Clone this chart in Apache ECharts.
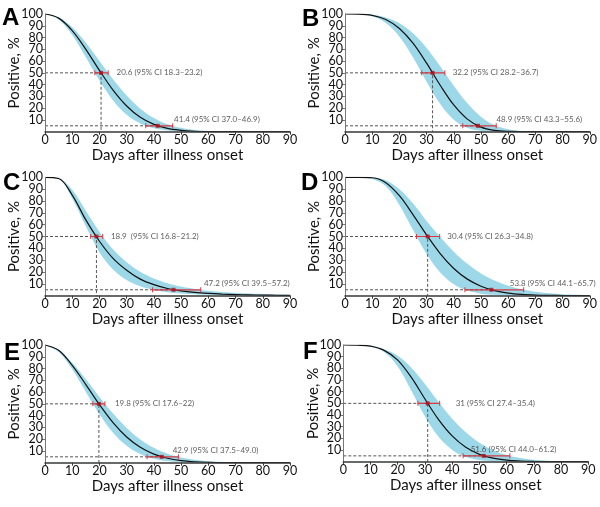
<!DOCTYPE html>
<html><head><meta charset="utf-8">
<script src="https://cdn.jsdelivr.net/npm/echarts@6/dist/echarts.min.js"></script>
<style>html,body{margin:0;padding:0;background:#fff}#c{width:600px;height:507px}</style>
</head><body><div id="c"></div>
<script>
// ---- data ----
const days = [0,5,10,15,20,25,30,35,40,45,50,55,60,65,70,75,80,85,90];

const A_mid = [100,96.5,85.9,70.0,52.1,35.3,21.8,12.2,6.2,2.8,1.2,0.4,0.15,0.05,0,0,0,0,0];
const A_lo  = [100,95.4,82.1,63.2,43.4,26.6,14.4,7.0,3.0,1.1,0.4,0.1,0,0,0,0,0,0,0];
const A_hi  = [100,97.2,88.7,75.6,60.1,44.5,30.7,19.6,11.7,6.4,3.3,1.55,0.7,0.3,0.1,0,0,0,0];

const B_mid = [100,99.9,98.9,95.3,87.7,75.2,58.2,39.5,22.7,10.7,3.9,1.1,0.2,0.03,0,0,0,0,0];
const B_lo  = [100,99.8,98.0,92.3,80.7,63.2,42.5,23.5,10.2,3.3,0.75,0.1,0,0,0,0,0,0,0];
const B_hi  = [100,99.9,99.3,97.1,92.2,83.6,71.1,55.6,39.1,24.2,12.8,5.6,2.0,0.56,0.12,0,0,0,0];

const C_mid = [100,99.0,85.0,64.0,46.0,31.5,21.5,14.0,9.3,6.1,4.1,2.8,1.95,1.35,0.95,0.68,0.5,0.36,0.26];
const C_lo  = [100,99.0,82.0,58.6,36.8,22.2,13.2,7.9,4.8,2.9,1.8,1.15,0.72,0.47,0.3,0.2,0.13,0.09,0.06];
const C_hi  = [100,99.2,89.4,71.7,53.9,39.2,28.3,20.3,14.6,10.6,7.7,5.7,4.2,3.2,2.4,1.8,1.4,1.1,0.8];

const D_mid = [100,100,99.6,95.5,84.5,68.5,51.3,35.6,23.0,14.0,8.0,4.3,2.2,1.1,0.55,0.3,0.15,0.08,0.04];
const D_lo  = [100,99.9,98.5,92.5,76.7,55.6,35.2,19.7,9.7,4.3,1.7,0.7,0.25,0.1,0.04,0,0,0,0];
const D_hi  = [100,100,99.8,97.5,90.0,78.0,63.0,49.5,37.2,26.9,18.8,12.75,8.4,5.35,3.3,2.0,1.2,0.75,0.45];

const E_mid = [100,95.5,82.7,66.4,49.3,34.0,21.8,13.1,7.3,3.8,1.8,0.8,0.35,0.14,0.05,0,0,0,0];
const E_lo  = [100,94.1,79.3,60.1,41.2,25.5,14.3,7.3,3.4,1.4,0.5,0.2,0.06,0,0,0,0,0,0];
const E_hi  = [100,96.2,84.9,70.9,55.9,41.7,29.5,19.8,12.7,7.7,4.5,2.5,1.3,0.66,0.32,0.15,0.07,0,0];

const F_mid = [100,99.8,99.0,95.4,87.1,72.2,53.7,36.1,22.1,12.3,6.3,3.0,1.3,0.6,0.25,0.1,0.05,0,0];
const F_lo  = [100,99.9,98.5,94.0,81.6,60.9,38.8,21.3,10.1,4.1,1.5,0.5,0.15,0.05,0,0,0,0,0];
const F_hi  = [100,100,99.4,96.4,90.8,80.6,66.6,51.2,36.9,25.2,16.2,9.9,5.75,3.2,1.7,0.9,0.45,0.2,0.1];

const medians    = [20.6, 32.2, 18.9, 30.4, 19.8, 31];
const medianLow  = [18.3, 28.2, 16.8, 26.3, 17.6, 27.4];
const medianHigh = [23.2, 36.7, 21.2, 34.8, 22.0, 35.4];
const t5         = [41.4, 48.9, 47.2, 53.8, 42.9, 51.6];
const t5Low      = [37.0, 43.3, 39.5, 44.1, 37.5, 44.0];
const t5High     = [46.9, 55.6, 57.2, 65.7, 49.0, 61.2];
const medianText = ['20.6 (95% CI 18.3–23.2)','32.2 (95% CI 28.2–36.7)','18.9  (95% CI 16.8–21.2)',
                    '30.4 (95% CI 26.3–34.8)','19.8 (95% CI 17.6–22)','31 (95% CI 27.4–35.4)'];
const t5Text     = ['41.4 (95% CI 37.0–46.9)','48.9 (95% CI 43.3–55.6)','47.2 (95% CI 39.5–57.2)',
                    '53.8 (95% CI 44.1–65.7)','42.9 (95% CI 37.5–49.0)','51.6 (95% CI 44.0–61.2)'];
const letters = ['A','B','C','D','E','F'];
const xTitle = 'Days after illness onset';
const yTitle = 'Positive, %';

// ---- layout ----
const mids = [A_mid,B_mid,C_mid,D_mid,E_mid,F_mid];
const los  = [A_lo,B_lo,C_lo,D_lo,E_lo,F_lo];
const his  = [A_hi,B_hi,C_hi,D_hi,E_hi,F_hi];
const gridPos = [
  {left:45, top:14, width:245, height:117.7},
  {left:345, top:14, width:245, height:117.7},
  {left:45, top:177.3, width:245, height:118.4},
  {left:345, top:177.3, width:245, height:118.4},
  {left:45, top:345, width:245, height:117.7},
  {left:343.3, top:345, width:245, height:116.7}
];
const medLabelX = [26.3, 39.6, 24.2, 37.6, 25.7, 41.3];
const t5LabelX  = [47.4, 55.7, 58.4, 60.6, 46.9, 46.8];
const letterPos = [[2,6.5],[302,7.5],[3,171.5],[301,171.5],[4,341.5],[303,340.5]];

const FONT = 'Lato';
const BAND = '#9dd8e8';
const RED = '#d43a42';
const DARKRED = '#a0101e';

const pts = ys => days.map((d,i)=>[d, ys[i]]);

const grids=[], xAxes=[], yAxes=[], series=[], graphics=[];
for (let i=0;i<6;i++){
  grids.push(Object.assign({containLabel:false}, gridPos[i]));
  xAxes.push({
    type:'value', gridIndex:i, min:0, max:90, interval:10, z:10,
    axisLine:{show:true, onZero:false, lineStyle:{color:'#3a3a3a', width:1.5}},
    axisTick:{show:true, length:3, lineStyle:{color:'#3a3a3a'}},
    axisLabel:{fontFamily:FONT, fontSize:12.5, color:'#111', margin:2, showMinLabel:true, showMaxLabel:true},
    splitLine:{show:false},
    name:xTitle, nameLocation:'middle', nameGap:14,
    nameTextStyle:{fontFamily:FONT, fontSize:15, color:'#111'}
  });
  // main y axis: labels 10..90
  yAxes.push({
    type:'value', gridIndex:i, min:0, max:100, interval:10, z:10, position:'left', offset:0,
    axisLine:{show:true, onZero:false, lineStyle:{color:'#777', width:1}},
    axisTick:{show:true, length:3, lineStyle:{color:'#777'}},
    axisLabel:{fontFamily:FONT, fontSize:12.5, color:'#111', margin:2,
               showMinLabel:false, showMaxLabel:false,
               formatter:v=> (v===0||v===100) ? '' : String(v)},
    splitLine:{show:false},
    name:yTitle, nameLocation:'middle', nameGap:23,
    nameTextStyle:{fontFamily:FONT, fontSize:15, color:'#111'}
  });
  // companion y axis: only the top label (100)
  yAxes.push({
    type:'value', gridIndex:i, min:0, max:100, interval:10, z:10, position:'left', offset:0,
    axisLine:{show:false}, axisTick:{show:false}, splitLine:{show:false},
    axisLabel:{fontFamily:FONT, fontSize:12.5, color:'#111', margin:2,
               showMinLabel:false, showMaxLabel:true,
               formatter:v=> v===100 ? String(v) : ''}
  });
  const ax = {xAxisIndex:i, yAxisIndex:2*i};
  // band: upper curve filled blue, lower curve filled white on top
  series.push(Object.assign({type:'line', data:pts(his[i]), smooth:0.35,
    symbol:'none', lineStyle:{opacity:0}, areaStyle:{color:BAND, opacity:1}, z:1, silent:true}, ax));
  series.push(Object.assign({type:'line', data:pts(los[i]), smooth:0.35,
    symbol:'none', lineStyle:{opacity:0}, areaStyle:{color:'#fff', opacity:1}, z:1.5, silent:true}, ax));
  // dashed guides
  series.push(Object.assign({type:'line', data:[[0,50],[medians[i],50],[medians[i],0]],
    symbol:'none', lineStyle:{color:'#555', width:1, type:[3,2]}, z:2}, ax));
  series.push(Object.assign({type:'line', data:[[0,5],[t5[i],5]],
    symbol:'none', lineStyle:{color:'#555', width:1, type:[3,2]}, z:2}, ax));
  // central curve
  series.push(Object.assign({type:'line', data:pts(mids[i]), smooth:0.35, symbol:'none',
    lineStyle:{color:'#111', width:1.2}, z:3}, ax));
  // CI bars
  [[medianLow[i],medianHigh[i],50],[t5Low[i],t5High[i],5]].forEach(b=>{
    series.push(Object.assign({type:'line', data:[[b[0],b[2]],[b[1],b[2]]],
      symbol:'rect', symbolSize:[1,5], showSymbol:true,
      itemStyle:{color:RED}, lineStyle:{color:RED, width:1.2}, z:4}, ax));
  });
  // estimates
  series.push(Object.assign({type:'scatter', data:[[medians[i],50],[t5[i],5]],
    symbol:'rect', symbolSize:4, itemStyle:{color:DARKRED}, z:5}, ax));
  // annotations
  series.push(Object.assign({type:'scatter', symbolSize:0, z:6,
    data:[
      {value:[medLabelX[i],50], label:{formatter:medianText[i]}},
      {value:[t5LabelX[i],5], label:{formatter:t5Text[i], offset:[0,-6]}}
    ],
    label:{show:true, position:'right', distance:0, fontFamily:FONT, fontSize:8, color:'#333'}}, ax));
  graphics.push({type:'text', left:letterPos[i][0], top:letterPos[i][1],
    style:{text:letters[i], font:'bold 24px "Liberation Sans"', fill:'#000'}});
}

const chart = echarts.init(document.getElementById('c'), null, {renderer:'canvas'});
chart.setOption({
  animation:false, backgroundColor:'#fff',
  grid:grids, xAxis:xAxes, yAxis:yAxes, series:series, graphic:graphics
});
</script>
</body></html>
